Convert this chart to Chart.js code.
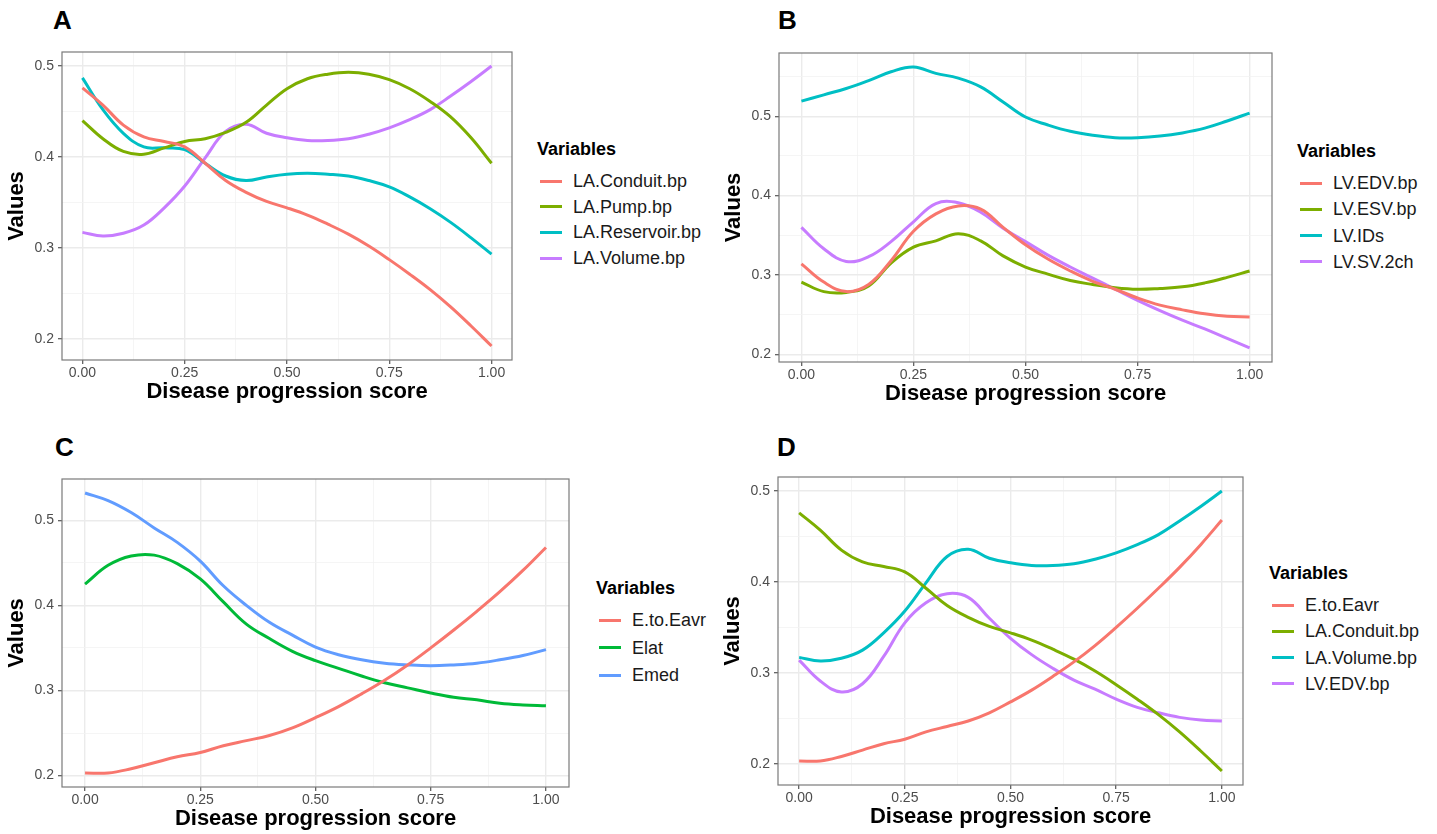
<!DOCTYPE html>
<html>
<head>
<meta charset="utf-8">
<title>Disease progression score</title>
<script src="https://cdn.jsdelivr.net/npm/chart.js@4.4.1/dist/chart.umd.min.js"></script>
<style>
  body {
    margin: 0;
    width: 1437px;
    height: 834px;
    background: #ffffff;
    position: relative;
    overflow: hidden;
    font-family: 'Liberation Sans', Arial, sans-serif;
  }
  .tag {
    position: absolute;
    font-size: 26px;
    line-height: 26px;
    font-weight: bold;
    color: #000;
  }
  .leg-title {
    position: absolute;
    font-size: 18px;
    line-height: 22px;
    font-weight: bold;
    color: #000;
    white-space: nowrap;
  }
  .leg-key {
    position: absolute;
    width: 22px;
    height: 3px;
  }
  .leg-label {
    position: absolute;
    font-size: 18px;
    line-height: 22px;
    color: #1a1a1a;
    white-space: nowrap;
  }
</style>
</head>
<body>
<script>
// x positions shared by every curve
const score = [0, 0.05, 0.1, 0.15, 0.2, 0.25, 0.3, 0.35, 0.4, 0.45, 0.5,
               0.55, 0.6, 0.65, 0.7, 0.75, 0.8, 0.85, 0.9, 0.95, 1];

// LA variables
const laConduit = [0.476, 0.457, 0.435, 0.422, 0.417, 0.411, 0.393, 0.374, 0.361, 0.351, 0.344,
                   0.336, 0.326, 0.315, 0.302, 0.287, 0.271, 0.254, 0.235, 0.214, 0.192];
const laPump = [0.440, 0.420, 0.406, 0.403, 0.410, 0.417, 0.420, 0.427, 0.438, 0.457, 0.475,
                0.486, 0.491, 0.493, 0.491, 0.485, 0.475, 0.461, 0.444, 0.421, 0.393];
const laReservoir = [0.487, 0.452, 0.426, 0.411, 0.410, 0.408, 0.393, 0.379, 0.374, 0.378, 0.381,
                     0.382, 0.381, 0.379, 0.374, 0.367, 0.356, 0.343, 0.328, 0.311, 0.293];
const laVolume = [0.317, 0.313, 0.316, 0.325, 0.344, 0.368, 0.399, 0.428, 0.436, 0.426, 0.421,
                  0.418, 0.418, 0.420, 0.425, 0.432, 0.441, 0.452, 0.467, 0.483, 0.500];

// LV variables
const lvEdv = [0.314, 0.291, 0.279, 0.288, 0.318, 0.355, 0.377, 0.387, 0.383, 0.360, 0.338,
               0.320, 0.305, 0.292, 0.282, 0.271, 0.262, 0.256, 0.251, 0.248, 0.247];
const lvEsv = [0.291, 0.279, 0.278, 0.286, 0.315, 0.335, 0.343, 0.352, 0.343, 0.324, 0.310,
               0.301, 0.293, 0.288, 0.284, 0.282, 0.283, 0.285, 0.290, 0.297, 0.305];
const lvIds = [0.519, 0.527, 0.535, 0.545, 0.556, 0.562, 0.554, 0.548, 0.537, 0.518, 0.499,
               0.489, 0.481, 0.476, 0.473, 0.473, 0.475, 0.479, 0.485, 0.494, 0.504];
const lvSv2ch = [0.360, 0.333, 0.317, 0.323, 0.342, 0.367, 0.390, 0.391, 0.379, 0.359, 0.342,
                 0.325, 0.310, 0.296, 0.282, 0.268, 0.255, 0.243, 0.232, 0.220, 0.208];

// E variables
const eToEavr = [0.203, 0.203, 0.208, 0.215, 0.222, 0.227, 0.235, 0.241, 0.247, 0.256, 0.268,
                 0.281, 0.296, 0.312, 0.330, 0.350, 0.371, 0.393, 0.416, 0.441, 0.468];
const eLat = [0.425, 0.447, 0.458, 0.459, 0.449, 0.431, 0.404, 0.378, 0.361, 0.346, 0.335,
              0.326, 0.317, 0.309, 0.303, 0.297, 0.292, 0.289, 0.285, 0.283, 0.282];
const eMed = [0.532, 0.523, 0.509, 0.491, 0.474, 0.452, 0.423, 0.400, 0.380, 0.365, 0.351,
              0.342, 0.336, 0.332, 0.330, 0.329, 0.330, 0.332, 0.336, 0.341, 0.348];

// tick values (major get labels, minor only get a grid line)
const xMajor = [0, 0.25, 0.5, 0.75, 1];
const xMinor = [0.125, 0.375, 0.625, 0.875];
const yMajor = [0.2, 0.3, 0.4, 0.5];
const yMinor = [0.25, 0.35, 0.45, 0.55];

// ggplot default hues
const hue4 = ['#F8766D', '#7CAE00', '#00BFC4', '#C77CFF'];
const hue3 = ['#F8766D', '#00BA38', '#619CFF'];

const FONT = "'Liberation Sans', Arial, sans-serif";

const panels = [
  {
    tag: 'A', tagLeft: 53, tagTop: 7,
    plot: { left: 62, top: 52, right: 512, bottom: 360 },
    names: ['LA.Conduit.bp', 'LA.Pump.bp', 'LA.Reservoir.bp', 'LA.Volume.bp'],
    series: [laConduit, laPump, laReservoir, laVolume],
    colors: hue4,
    legend: { x: 537, y: 149, step: 25.7 }
  },
  {
    tag: 'B', tagLeft: 778, tagTop: 7,
    plot: { left: 779, top: 53, right: 1272, bottom: 362 },
    names: ['LV.EDV.bp', 'LV.ESV.bp', 'LV.IDs', 'LV.SV.2ch'],
    series: [lvEdv, lvEsv, lvIds, lvSv2ch],
    colors: hue4,
    legend: { x: 1297, y: 151, step: 26.3 }
  },
  {
    tag: 'C', tagLeft: 55, tagTop: 434,
    plot: { left: 62, top: 479, right: 569, bottom: 787 },
    names: ['E.to.Eavr', 'Elat', 'Emed'],
    series: [eToEavr, eLat, eMed],
    colors: hue3,
    legend: { x: 596, y: 588, step: 27.5 }
  },
  {
    tag: 'D', tagLeft: 777, tagTop: 434,
    plot: { left: 778, top: 477, right: 1243, bottom: 785 },
    names: ['E.to.Eavr', 'LA.Conduit.bp', 'LA.Volume.bp', 'LV.EDV.bp'],
    series: [eToEavr, laConduit, laVolume, lvEdv],
    colors: hue4,
    legend: { x: 1269, y: 573, step: 26.3 }
  }
];

function isIn(v, list) {
  return list.some(t => Math.abs(t - v) < 1e-9);
}

// merged, sorted tick objects that fall inside the axis range
function tickList(major, minor, lo, hi) {
  return major.concat(minor)
    .filter(v => v >= lo && v <= hi)
    .sort((a, b) => a - b)
    .map(v => ({ value: v }));
}

// panel border drawn all round, like theme_bw
const panelFrame = {
  id: 'panelFrame',
  afterDraw(chart) {
    const { ctx, chartArea: a } = chart;
    ctx.save();
    ctx.strokeStyle = '#7a7a7a';
    ctx.lineWidth = 1.2;
    ctx.strokeRect(a.left, a.top, a.right - a.left, a.bottom - a.top);
    ctx.restore();
  }
};

function gridFor(major) {
  return {
    color: c => (c.tick && isIn(c.tick.value, major)) ? '#ebebeb' : '#f3f3f3',
    lineWidth: c => (c.tick && isIn(c.tick.value, major)) ? 1.4 : 0.8,
    tickColor: c => (c.tick && isIn(c.tick.value, major)) ? '#555555' : 'rgba(0,0,0,0)',
    tickWidth: 1.2,
    tickLength: 4,
    drawTicks: true
  };
}

function buildPanel(p) {
  const yAxisWidth = 62;
  const xAxisHeight = 45;
  const padTop = 16;
  const padRight = 4;

  const cl = p.plot.left - yAxisWidth;
  const ct = p.plot.top - padTop;
  const cw = p.plot.right + padRight - cl;
  const ch = p.plot.bottom + xAxisHeight - ct;

  const canvas = document.createElement('canvas');
  canvas.width = cw;
  canvas.height = ch;
  canvas.style.cssText = `position:absolute;left:${cl}px;top:${ct}px;width:${cw}px;height:${ch}px;`;
  document.body.appendChild(canvas);

  // 5% expansion on both axes, as ggplot does
  const all = p.series.flat();
  const lo = Math.min(...all);
  const hi = Math.max(...all);
  const yPad = (hi - lo) * 0.05;
  const yMin = lo - yPad;
  const yMax = hi + yPad;
  const xMin = -0.05;
  const xMax = 1.05;

  new Chart(canvas.getContext('2d'), {
    type: 'line',
    data: {
      datasets: p.series.map((s, i) => ({
        label: p.names[i],
        data: score.map((x, j) => ({ x: x, y: s[j] })),
        borderColor: p.colors[i],
        backgroundColor: p.colors[i],
        borderWidth: 3,
        pointRadius: 0,
        tension: 0.4,
        fill: false
      }))
    },
    options: {
      responsive: false,
      animation: false,
      events: [],
      layout: { padding: { left: 0, top: padTop, right: padRight, bottom: 0 } },
      plugins: {
        legend: { display: false },
        tooltip: { enabled: false }
      },
      scales: {
        x: {
          type: 'linear',
          min: xMin,
          max: xMax,
          afterBuildTicks: ax => { ax.ticks = tickList(xMajor, xMinor, xMin, xMax); },
          afterFit: ax => { ax.height = xAxisHeight; },
          grid: gridFor(xMajor),
          border: { display: false },
          ticks: {
            autoSkip: false,
            maxRotation: 0,
            padding: 1,
            color: '#4d4d4d',
            font: { family: FONT, size: 14 },
            callback: v => isIn(v, xMajor) ? v.toFixed(2) : ''
          },
          title: {
            display: true,
            text: 'Disease progression score',
            color: '#000000',
            font: { family: FONT, size: 22, weight: 'bold' },
            padding: { top: 0, bottom: 0 }
          }
        },
        y: {
          type: 'linear',
          min: yMin,
          max: yMax,
          afterBuildTicks: ax => { ax.ticks = tickList(yMajor, yMinor, yMin, yMax); },
          afterFit: ax => { ax.width = yAxisWidth; },
          grid: gridFor(yMajor),
          border: { display: false },
          ticks: {
            autoSkip: false,
            padding: 4,
            color: '#4d4d4d',
            font: { family: FONT, size: 14 },
            callback: v => isIn(v, yMajor) ? v.toFixed(1) : ''
          },
          title: {
            display: true,
            text: 'Values',
            color: '#000000',
            font: { family: FONT, size: 22, weight: 'bold' },
            padding: { top: 4, bottom: 0 }
          }
        }
      }
    },
    plugins: [panelFrame]
  });
}

function addDiv(cls, text, css) {
  const d = document.createElement('div');
  d.className = cls;
  if (text) d.textContent = text;
  d.style.cssText = css;
  document.body.appendChild(d);
  return d;
}

function buildLegend(p) {
  const lg = p.legend;
  addDiv('leg-title', 'Variables', `left:${lg.x}px;top:${lg.y - 11}px;`);
  p.names.forEach((name, i) => {
    const cy = lg.y + 32 + i * lg.step;
    addDiv('leg-key', '', `left:${lg.x + 3}px;top:${cy - 1.5}px;background:${p.colors[i]};`);
    addDiv('leg-label', name, `left:${lg.x + 36}px;top:${cy - 11}px;`);
  });
}

panels.forEach(p => {
  addDiv('tag', p.tag, `left:${p.tagLeft}px;top:${p.tagTop}px;`);
  buildPanel(p);
  buildLegend(p);
});
</script>
</body>
</html>
